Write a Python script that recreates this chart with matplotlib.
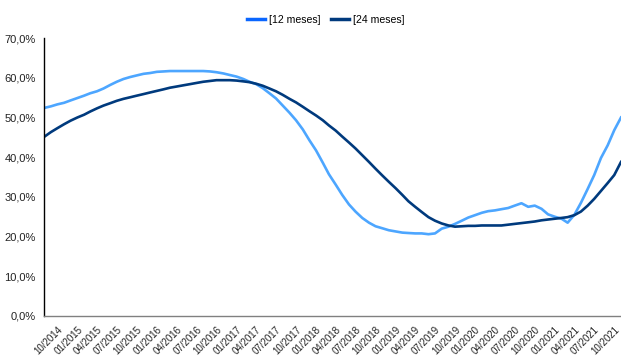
import numpy as np
import pandas as pd
import matplotlib
matplotlib.use("Agg")
import matplotlib.pyplot as plt
import matplotlib.dates as mdates
from matplotlib.lines import Line2D
from matplotlib.ticker import FuncFormatter

plt.rcParams['font.family'] = ['Liberation Sans', 'DejaVu Sans']

# monthly series, 08/2014 .. 11/2021
months = pd.date_range('2014-08-01', periods=88, freq='MS')

meses_12 = [52.4, 52.8, 53.3, 53.7, 54.3, 54.9, 55.5, 56.1, 56.6, 57.3,
            58.2, 59.0, 59.7, 60.2, 60.6, 61.0, 61.2, 61.5, 61.6, 61.7,
            61.7, 61.7, 61.7, 61.7, 61.7, 61.6, 61.4, 61.1, 60.7, 60.3,
            59.7, 59.0, 58.4, 57.4, 56.1, 54.8, 53.0, 51.2, 49.3, 47.0,
            44.3, 41.7, 38.6, 35.7, 33.1, 30.5, 28.1, 26.3, 24.7, 23.5,
            22.6, 22.1, 21.6, 21.3, 21.0, 20.9, 20.8, 20.8, 20.6, 20.8,
            22.0, 22.5, 23.2, 24.0, 24.8, 25.4, 26.0, 26.4, 26.6, 26.9,
            27.2, 27.8, 28.4, 27.5, 27.8, 27.0, 25.6, 25.0, 24.5, 23.5,
            25.5, 28.5, 32.0, 35.5, 39.8, 43.0, 46.8, 50.0]

meses_24 = [45.1, 46.3, 47.3, 48.3, 49.2, 50.0, 50.7, 51.5, 52.3, 53.0,
            53.6, 54.2, 54.7, 55.1, 55.5, 55.9, 56.3, 56.7, 57.1, 57.5,
            57.8, 58.1, 58.4, 58.7, 59.0, 59.2, 59.4, 59.4, 59.4, 59.3,
            59.1, 58.9, 58.5, 58.0, 57.3, 56.6, 55.7, 54.7, 53.8, 52.7,
            51.6, 50.5, 49.3, 48.0, 46.7, 45.2, 43.7, 42.2, 40.5, 38.8,
            37.1, 35.4, 33.8, 32.2, 30.5, 28.9, 27.5, 26.2, 24.9, 24.0,
            23.3, 22.8, 22.5, 22.6, 22.7, 22.7, 22.8, 22.8, 22.8, 22.8,
            23.0, 23.2, 23.4, 23.6, 23.8, 24.1, 24.3, 24.5, 24.7, 24.9,
            25.4, 26.3, 27.8, 29.5, 31.5, 33.5, 35.5, 38.8]

series_names = ['[12 meses]', '[24 meses]']
line_colors = ['#4da6ff', '#003a7d']
legend_colors = ['#0a66ff', '#003a7d']

fig = plt.figure(figsize=(6.21, 3.56), dpi=100)
ax = fig.add_axes([0.0709, 0.1124, 0.9291, 0.7806])

ax.plot(months, meses_12, color=line_colors[0], lw=1.9)
ax.plot(months, meses_24, color=line_colors[1], lw=1.9)

ax.set_xlim(months[0], months[-1])
ax.set_ylim(0, 70)
ax.set_yticks(np.arange(0, 71, 10))
ax.yaxis.set_major_formatter(FuncFormatter(lambda v, p: f'{v:.1f}%'.replace('.', ',')))

ax.xaxis.set_major_locator(mdates.MonthLocator(bymonth=[1, 4, 7, 10]))
ax.xaxis.set_major_formatter(mdates.DateFormatter('%m/%Y'))
for lbl in ax.get_xticklabels():
    lbl.set_rotation(45)
    lbl.set_ha('right')
    lbl.set_rotation_mode('anchor')

ax.tick_params(axis='x', length=0, labelsize=7, colors='#222222', pad=6)
ax.tick_params(axis='y', length=0, labelsize=8, colors='#222222', pad=6)

for s in ['top', 'right']:
    ax.spines[s].set_visible(False)
ax.spines['left'].set_color('black')
ax.spines['left'].set_linewidth(1.0)
ax.spines['bottom'].set_color('#808080')
ax.spines['bottom'].set_linewidth(1.0)

handles = [Line2D([], [], color=c, lw=2.5) for c in legend_colors]
fig.legend(handles, series_names, loc='center', bbox_to_anchor=(0.525, 0.944),
           ncol=2, frameon=False, fontsize=7.6, handlelength=1.7,
           handletextpad=0.4, columnspacing=1.0)

fig.savefig('out.png', dpi=100)
